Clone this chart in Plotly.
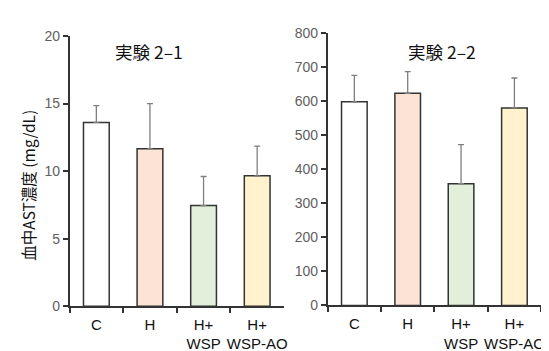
import plotly.graph_objects as go

categories = ["C", "H", "H+<br>WSP", "H+<br>WSP-AO"]
exp1_values = [13.6, 11.65, 7.45, 9.65]
exp1_err_top = [14.85, 15.0, 9.6, 11.85]
exp2_values = [599, 624, 358, 581]
exp2_err_top = [677, 688, 473, 669]
bar_colors = ["#FFFFFF", "#FBE3D6", "#E2EFDA", "#FFF2CC"]
titles = ["実験 2–1", "実験 2–2"]
y_label = "血中AST濃度 (mg/dL)"

W, H = 549, 351
fig = go.Figure()

def add_bars(vals, tops, xa, ya):
    fig.add_trace(go.Bar(
        x=categories, y=vals, xaxis=xa, yaxis=ya, width=0.48,
        marker=dict(color=bar_colors, line=dict(color="#333333", width=1.5)),
        error_y=dict(type="data", symmetric=False,
                     array=[t - v for t, v in zip(tops, vals)],
                     arrayminus=[0] * len(vals),
                     color="#7F7F7F", thickness=1.3, width=3),
        showlegend=False,
    ))

add_bars(exp1_values, exp1_err_top, "x", "y")
add_bars(exp2_values, exp2_err_top, "x2", "y2")

xcommon = dict(type="category", range=[-0.5, 3.5], showline=True, linecolor="#333333",
               linewidth=1.5, ticks="outside", tickson="boundaries", ticklen=5,
               tickcolor="#333333", tickwidth=1.5, showgrid=False, zeroline=False,
               tickangle=0, ticklabelstandoff=4,
               tickfont=dict(family="Liberation Sans, Arial", size=15, color="#111111"))
ycommon = dict(showline=True, linecolor="#333333", linewidth=1.5, ticks="outside",
               ticklen=5, tickcolor="#333333", tickwidth=1.5, showgrid=False,
               zeroline=False,
               tickfont=dict(family="Liberation Sans, Arial", size=14, color="#606060"))

fig.update_layout(
    width=W, height=H, margin=dict(l=0, r=0, t=0, b=0),
    plot_bgcolor="white", paper_bgcolor="white", bargap=0.5,
    xaxis=dict(domain=[62 / W, 278 / W], anchor="y", **xcommon),
    yaxis=dict(domain=[1 - 304 / H, 1 - 21 / H], range=[0, 20], dtick=5, anchor="x", **ycommon),
    xaxis2=dict(domain=[322 / W, 537 / W], anchor="y2", **xcommon),
    yaxis2=dict(domain=[1 - 303.3 / H, 1 - 18.3 / H], range=[0, 800], dtick=100, anchor="x2", **ycommon),
)

fig.add_annotation(x=142 / W, y=1 - 37 / H, xref="paper", yref="paper", text=titles[0],
                   xanchor="center", yanchor="middle", showarrow=False,
                   font=dict(family="Noto Sans CJK JP", size=17.5, color="#111111"))
fig.add_annotation(x=437 / W, y=1 - 37 / H, xref="paper", yref="paper", text=titles[1],
                   xanchor="center", yanchor="middle", showarrow=False,
                   font=dict(family="Noto Sans CJK JP", size=17.5, color="#111111"))
fig.add_annotation(x=20 / W, y=1 - 177 / H, xref="paper", yref="paper", text=y_label,
                   xanchor="center", yanchor="middle", textangle=-90, showarrow=False,
                   font=dict(family="Noto Sans CJK JP", size=15.5, color="#111111"))

fig.write_html("out.html")
